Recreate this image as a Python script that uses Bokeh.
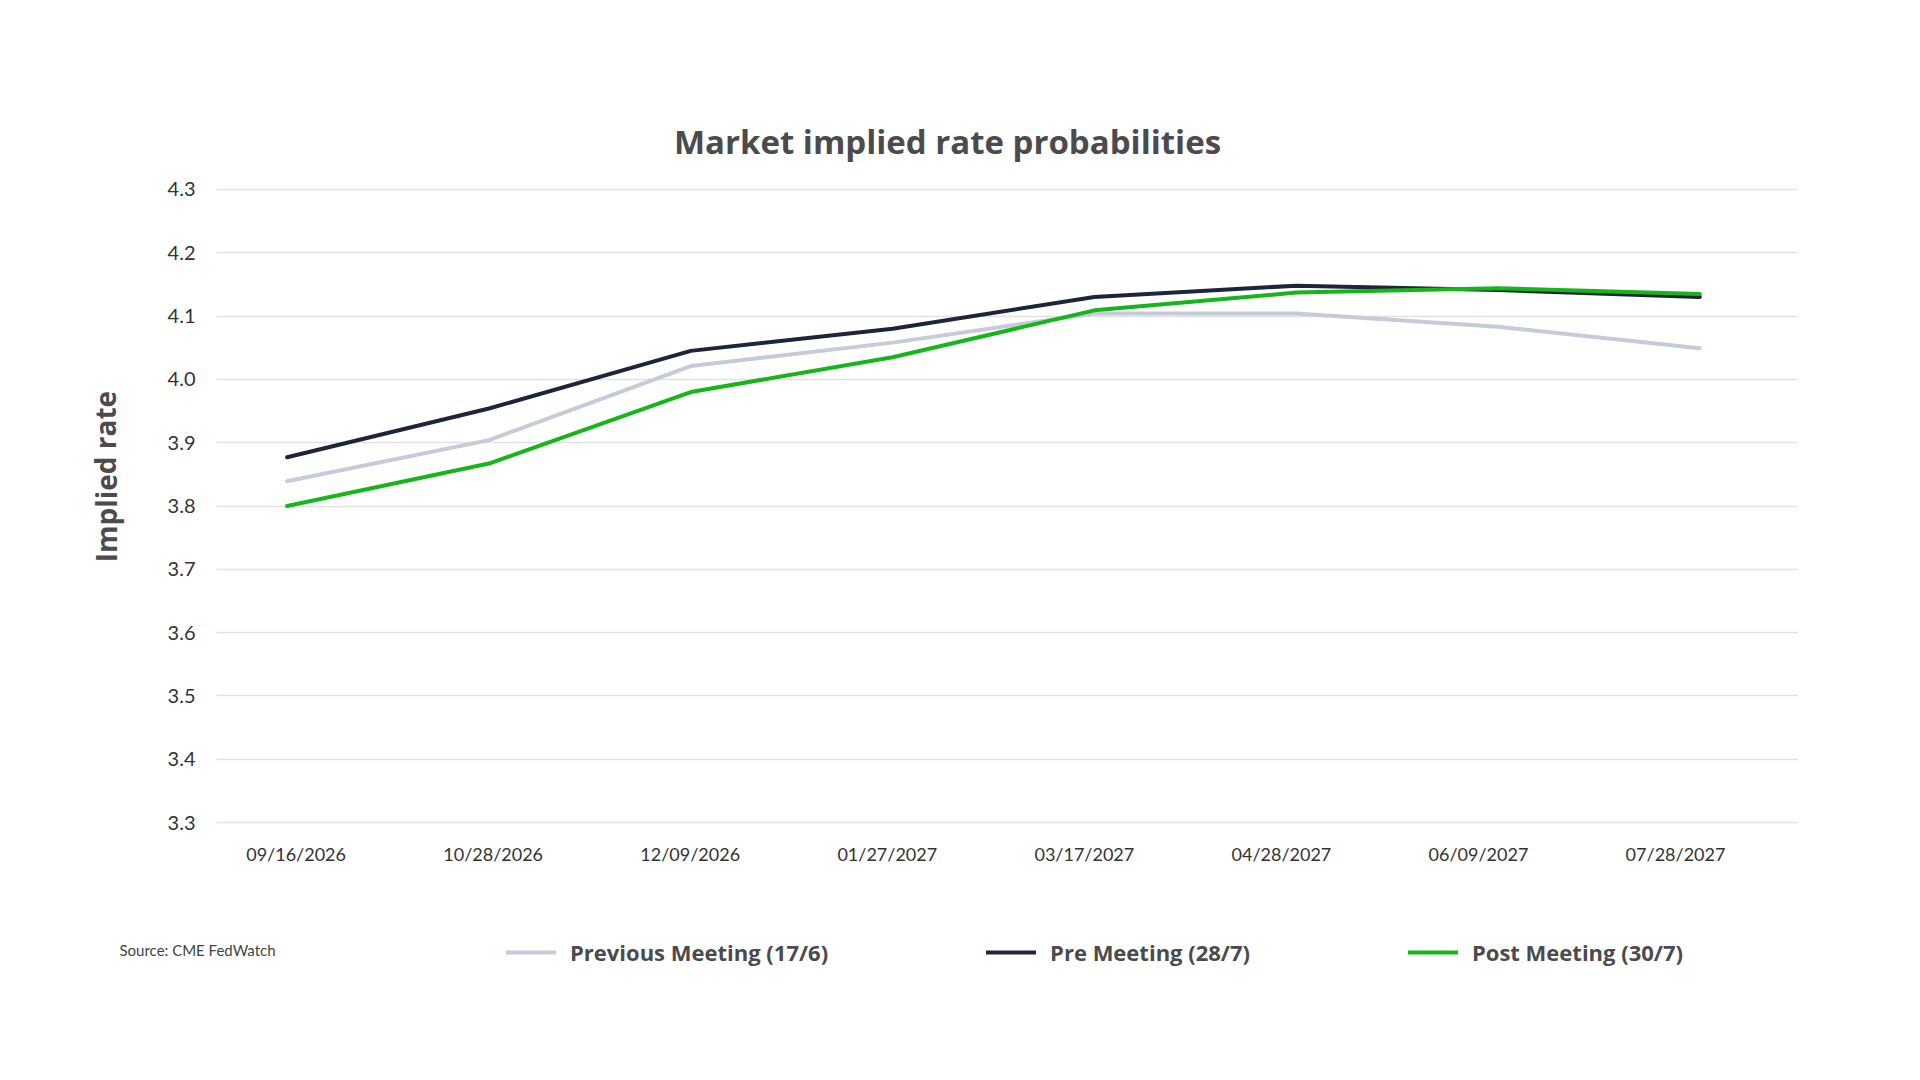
from bokeh.plotting import figure
from bokeh.layouts import column, row
from bokeh.models import (Range1d, FixedTicker, PrintfTickFormatter, Label, LinearAxis,
                          Legend, LegendItem, ColumnDataSource)
from bokeh.embed import file_html
from bokeh.resources import INLINE

# ---- data ----
dates = ["09/16/2026", "10/28/2026", "12/09/2026", "01/27/2027",
         "03/17/2027", "04/28/2027", "06/09/2027", "07/28/2027"]
previous_meeting = [3.839, 3.904, 4.021, 4.058, 4.104, 4.104, 4.083, 4.049]
pre_meeting = [3.877, 3.954, 4.045, 4.080, 4.130, 4.148, 4.141, 4.130]
post_meeting = [3.800, 3.867, 3.980, 4.035, 4.109, 4.137, 4.144, 4.135]
y_ticks = [3.3, 3.4, 3.5, 3.6, 3.7, 3.8, 3.9, 4.0, 4.1, 4.2, 4.3]
series_names = ["Previous Meeting (17/6)", "Pre Meeting (28/7)", "Post Meeting (30/7)"]
title_text = "Market implied rate probabilities"
y_title = "Implied rate"
source_text = "Source: CME FedWatch"

# ---- styles ----
C_PREV = "#c4cbd9"
C_PRE = "#1c2539"
C_POST = "#16b61a"
TEXT = "#4b4b4e"
FONT = "Lato"
BOLD_FONT = "Open Sans"
W = 1904
HEADER_H, MAIN_H, FOOTER_H = 168, 716, 180
LEFT_W = 140


def blank(width, height):
    f = figure(width=width, height=height, output_backend="svg", toolbar_location=None,
               x_range=Range1d(0, width), y_range=Range1d(0, height),
               x_axis_type=None, y_axis_type=None, min_border=0,
               outline_line_color=None, background_fill_color="white",
               border_fill_color="white")
    f.xgrid.visible = False
    f.ygrid.visible = False
    return f


# ---- header (title) ----
header = blank(W, HEADER_H)
header.add_layout(Label(x=947, y=27, text=title_text, text_font=BOLD_FONT,
                        text_font_style="bold", text_font_size="33px", text_color=TEXT,
                        text_align="center", text_baseline="alphabetic"))

# ---- left gutter (y axis title) ----
left = blank(LEFT_W, MAIN_H)
left.add_layout(Label(x=105, y=391, text=y_title, text_font=BOLD_FONT, angle=1.5708,
                      text_font_style="bold", text_font_size="28px", text_color=TEXT,
                      text_align="center", text_baseline="middle"))

# ---- main chart ----
idx = list(range(len(dates)))
src = ColumnDataSource(dict(x=idx, prev=previous_meeting, pre=pre_meeting, post=post_meeting))

p = figure(width=W - LEFT_W, height=MAIN_H, output_backend="svg", toolbar_location=None,
           x_range=Range1d(-0.35, 7.484), y_range=Range1d(3.297, 4.303),
           x_axis_type=None,
           min_border_left=76, min_border_right=107, min_border_top=19,
           min_border_bottom=60, outline_line_color=None,
           background_fill_color="white", border_fill_color="white")
# the category labels of the reference sit on a slightly tighter spacing than the points
p.extra_x_ranges = {"labels": Range1d(-0.404, 7.619)}

styles = [(C_PREV, "prev"), (C_PRE, "pre"), (C_POST, "post")]
for color, col in styles:
    p.line("x", col, source=src, line_color=color, line_width=4,
           line_join="round", line_cap="round")

xaxis = LinearAxis(x_range_name="labels", ticker=FixedTicker(ticks=idx),
                   major_label_overrides={i: d for i, d in zip(idx, dates)})
p.add_layout(xaxis, "below")
p.yaxis.ticker = FixedTicker(ticks=y_ticks)
p.yaxis.formatter = PrintfTickFormatter(format="%.1f")
for ax in (xaxis, p.yaxis[0]):
    ax.axis_line_color = None
    ax.major_tick_line_color = None
    ax.minor_tick_line_color = None
    ax.major_tick_out = 0
    ax.major_tick_in = 0
    ax.minor_tick_out = 0
    ax.major_label_text_font = FONT
    ax.major_label_text_color = "#333333"
xaxis.major_label_text_font_size = "18px"
xaxis.major_label_standoff = 18
p.yaxis.major_label_text_font_size = "20px"
p.yaxis.major_label_standoff = 21

p.ygrid.grid_line_color = "#e1e1e3"
p.ygrid.grid_line_width = 1.5

# ---- footer (source + legend) ----
footer = blank(W, FOOTER_H)
footer.add_layout(Label(x=119, y=115, text=source_text, text_font=FONT,
                        text_font_size="15px", text_color="#444444",
                        text_align="left", text_baseline="middle"))
items = []
for name, (color, col) in zip(series_names, styles):
    r = footer.line("x", col, source=src, line_color=color, line_width=4,
                    line_cap="round", visible=False)
    items.append(LegendItem(label=name, renderers=[r]))
legend = Legend(items=items, location=(506, 97), orientation="horizontal",
                glyph_width=50, glyph_height=24, label_height=24, label_standoff=14,
                padding=0, margin=0, spacing=158,
                border_line_color=None, background_fill_alpha=0,
                inactive_fill_alpha=0,
                label_text_font=BOLD_FONT, label_text_font_style="bold",
                label_text_font_size="22px", label_text_color=TEXT,
                label_text_baseline="middle")
footer.add_layout(legend, "center")

layout = column(header, row(left, p), footer)
open("out.html", "w").write(file_html(layout, INLINE))
